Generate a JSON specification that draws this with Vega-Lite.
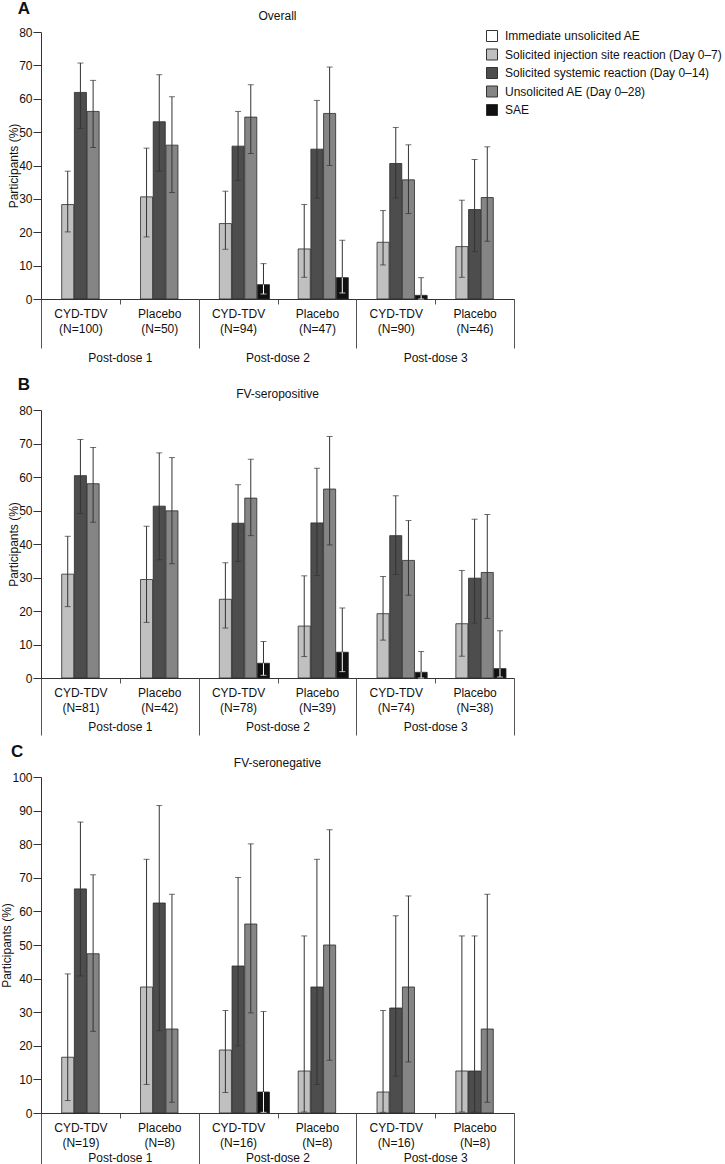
{
  "$schema": "https://vega.github.io/schema/vega-lite/v6.json",
  "padding": {"left": 0, "top": 0, "right": 0, "bottom": 0},
  "config": {
    "font": "Liberation Sans",
    "view": {"stroke": null},
    "title": {"color": "#111"},
    "axis": {"labelColor": "#111", "titleColor": "#111", "labelFontSize": 12, "titleFontSize": 12, "titleFontWeight": "normal", "domainColor": "#333", "tickColor": "#555", "grid": false},
    "axisY": {"tickSize": 8, "labelPadding": 1, "titlePadding": -2, "tickColor": "#333"}
  },
  "datasets": {
    "bars": [
      {"panel": "A", "grp": "P1|CYD-TDV|(N=100)", "cat": "Solicited injection site reaction (Day 0–7)", "v": 28.3, "lo": 20.1, "hi": 38.3},
      {"panel": "A", "grp": "P1|CYD-TDV|(N=100)", "cat": "Solicited systemic reaction (Day 0–14)", "v": 61.9, "lo": 51.1, "hi": 70.7},
      {"panel": "A", "grp": "P1|CYD-TDV|(N=100)", "cat": "Unsolicited AE (Day 0–28)", "v": 56.2, "lo": 45.4, "hi": 65.5},
      {"panel": "A", "grp": "P1|Placebo|(N=50)", "cat": "Solicited injection site reaction (Day 0–7)", "v": 30.6, "lo": 18.6, "hi": 45.2},
      {"panel": "A", "grp": "P1|Placebo|(N=50)", "cat": "Solicited systemic reaction (Day 0–14)", "v": 53.1, "lo": 38.3, "hi": 67.2},
      {"panel": "A", "grp": "P1|Placebo|(N=50)", "cat": "Unsolicited AE (Day 0–28)", "v": 46.1, "lo": 31.9, "hi": 60.6},
      {"panel": "A", "grp": "P2|CYD-TDV|(N=94)", "cat": "Solicited injection site reaction (Day 0–7)", "v": 22.6, "lo": 14.9, "hi": 32.3},
      {"panel": "A", "grp": "P2|CYD-TDV|(N=94)", "cat": "Solicited systemic reaction (Day 0–14)", "v": 45.8, "lo": 35.5, "hi": 56.2},
      {"panel": "A", "grp": "P2|CYD-TDV|(N=94)", "cat": "Unsolicited AE (Day 0–28)", "v": 54.5, "lo": 43.6, "hi": 64.2},
      {"panel": "A", "grp": "P2|CYD-TDV|(N=94)", "cat": "SAE", "v": 4.3, "lo": 1.5, "hi": 10.6},
      {"panel": "A", "grp": "P2|Placebo|(N=47)", "cat": "Solicited injection site reaction (Day 0–7)", "v": 15.0, "lo": 6.5, "hi": 28.3},
      {"panel": "A", "grp": "P2|Placebo|(N=47)", "cat": "Solicited systemic reaction (Day 0–14)", "v": 44.9, "lo": 30.2, "hi": 59.5},
      {"panel": "A", "grp": "P2|Placebo|(N=47)", "cat": "Unsolicited AE (Day 0–28)", "v": 55.6, "lo": 40.0, "hi": 69.5},
      {"panel": "A", "grp": "P2|Placebo|(N=47)", "cat": "SAE", "v": 6.4, "lo": 1.8, "hi": 17.6},
      {"panel": "A", "grp": "P3|CYD-TDV|(N=90)", "cat": "Solicited injection site reaction (Day 0–7)", "v": 17.0, "lo": 10.2, "hi": 26.5},
      {"panel": "A", "grp": "P3|CYD-TDV|(N=90)", "cat": "Solicited systemic reaction (Day 0–14)", "v": 40.6, "lo": 30.3, "hi": 51.4},
      {"panel": "A", "grp": "P3|CYD-TDV|(N=90)", "cat": "Unsolicited AE (Day 0–28)", "v": 35.7, "lo": 25.6, "hi": 46.2},
      {"panel": "A", "grp": "P3|CYD-TDV|(N=90)", "cat": "SAE", "v": 1.1, "lo": 0.0, "hi": 6.4},
      {"panel": "A", "grp": "P3|Placebo|(N=46)", "cat": "Solicited injection site reaction (Day 0–7)", "v": 15.7, "lo": 6.5, "hi": 29.6},
      {"panel": "A", "grp": "P3|Placebo|(N=46)", "cat": "Solicited systemic reaction (Day 0–14)", "v": 26.8, "lo": 14.2, "hi": 41.8},
      {"panel": "A", "grp": "P3|Placebo|(N=46)", "cat": "Unsolicited AE (Day 0–28)", "v": 30.4, "lo": 17.3, "hi": 45.6},

      {"panel": "B", "grp": "P1|CYD-TDV|(N=81)", "cat": "Solicited injection site reaction (Day 0–7)", "v": 31.0, "lo": 21.3, "hi": 42.3},
      {"panel": "B", "grp": "P1|CYD-TDV|(N=81)", "cat": "Solicited systemic reaction (Day 0–14)", "v": 60.4, "lo": 49.1, "hi": 71.2},
      {"panel": "B", "grp": "P1|CYD-TDV|(N=81)", "cat": "Unsolicited AE (Day 0–28)", "v": 58.0, "lo": 46.5, "hi": 68.8},
      {"panel": "B", "grp": "P1|Placebo|(N=42)", "cat": "Solicited injection site reaction (Day 0–7)", "v": 29.4, "lo": 16.6, "hi": 45.3},
      {"panel": "B", "grp": "P1|Placebo|(N=42)", "cat": "Solicited systemic reaction (Day 0–14)", "v": 51.3, "lo": 35.3, "hi": 67.2},
      {"panel": "B", "grp": "P1|Placebo|(N=42)", "cat": "Unsolicited AE (Day 0–28)", "v": 49.9, "lo": 34.1, "hi": 65.8},
      {"panel": "B", "grp": "P2|CYD-TDV|(N=78)", "cat": "Solicited injection site reaction (Day 0–7)", "v": 23.5, "lo": 14.9, "hi": 34.4},
      {"panel": "B", "grp": "P2|CYD-TDV|(N=78)", "cat": "Solicited systemic reaction (Day 0–14)", "v": 46.2, "lo": 34.8, "hi": 57.7},
      {"panel": "B", "grp": "P2|CYD-TDV|(N=78)", "cat": "Unsolicited AE (Day 0–28)", "v": 53.7, "lo": 42.5, "hi": 65.3},
      {"panel": "B", "grp": "P2|CYD-TDV|(N=78)", "cat": "SAE", "v": 4.4, "lo": 0.8, "hi": 10.9},
      {"panel": "B", "grp": "P2|Placebo|(N=39)", "cat": "Solicited injection site reaction (Day 0–7)", "v": 15.5, "lo": 6.4, "hi": 30.5},
      {"panel": "B", "grp": "P2|Placebo|(N=39)", "cat": "Solicited systemic reaction (Day 0–14)", "v": 46.3, "lo": 30.6, "hi": 62.6},
      {"panel": "B", "grp": "P2|Placebo|(N=39)", "cat": "Unsolicited AE (Day 0–28)", "v": 56.4, "lo": 39.7, "hi": 72.1},
      {"panel": "B", "grp": "P2|Placebo|(N=39)", "cat": "SAE", "v": 7.7, "lo": 1.9, "hi": 20.9},
      {"panel": "B", "grp": "P3|CYD-TDV|(N=74)", "cat": "Solicited injection site reaction (Day 0–7)", "v": 19.2, "lo": 11.3, "hi": 30.3},
      {"panel": "B", "grp": "P3|CYD-TDV|(N=74)", "cat": "Solicited systemic reaction (Day 0–14)", "v": 42.5, "lo": 30.9, "hi": 54.4},
      {"panel": "B", "grp": "P3|CYD-TDV|(N=74)", "cat": "Unsolicited AE (Day 0–28)", "v": 35.1, "lo": 24.7, "hi": 47.0},
      {"panel": "B", "grp": "P3|CYD-TDV|(N=74)", "cat": "SAE", "v": 1.7, "lo": 0.0, "hi": 7.9},
      {"panel": "B", "grp": "P3|Placebo|(N=38)", "cat": "Solicited injection site reaction (Day 0–7)", "v": 16.2, "lo": 6.5, "hi": 32.1},
      {"panel": "B", "grp": "P3|Placebo|(N=38)", "cat": "Solicited systemic reaction (Day 0–14)", "v": 29.8, "lo": 16.4, "hi": 47.4},
      {"panel": "B", "grp": "P3|Placebo|(N=38)", "cat": "Unsolicited AE (Day 0–28)", "v": 31.5, "lo": 17.8, "hi": 48.8},
      {"panel": "B", "grp": "P3|Placebo|(N=38)", "cat": "SAE", "v": 2.8, "lo": 0.3, "hi": 14.1},

      {"panel": "C", "grp": "P1|CYD-TDV|(N=19)", "cat": "Solicited injection site reaction (Day 0–7)", "v": 16.6, "lo": 3.7, "hi": 41.4},
      {"panel": "C", "grp": "P1|CYD-TDV|(N=19)", "cat": "Solicited systemic reaction (Day 0–14)", "v": 66.7, "lo": 40.8, "hi": 86.6},
      {"panel": "C", "grp": "P1|CYD-TDV|(N=19)", "cat": "Unsolicited AE (Day 0–28)", "v": 47.4, "lo": 24.3, "hi": 70.9},
      {"panel": "C", "grp": "P1|Placebo|(N=8)", "cat": "Solicited injection site reaction (Day 0–7)", "v": 37.5, "lo": 8.5, "hi": 75.5},
      {"panel": "C", "grp": "P1|Placebo|(N=8)", "cat": "Solicited systemic reaction (Day 0–14)", "v": 62.5, "lo": 24.5, "hi": 91.5},
      {"panel": "C", "grp": "P1|Placebo|(N=8)", "cat": "Unsolicited AE (Day 0–28)", "v": 25.0, "lo": 3.2, "hi": 65.1},
      {"panel": "C", "grp": "P2|CYD-TDV|(N=16)", "cat": "Solicited injection site reaction (Day 0–7)", "v": 18.75, "lo": 6.1, "hi": 30.5},
      {"panel": "C", "grp": "P2|CYD-TDV|(N=16)", "cat": "Solicited systemic reaction (Day 0–14)", "v": 43.75, "lo": 20.0, "hi": 70.1},
      {"panel": "C", "grp": "P2|CYD-TDV|(N=16)", "cat": "Unsolicited AE (Day 0–28)", "v": 56.25, "lo": 29.8, "hi": 80.1},
      {"panel": "C", "grp": "P2|CYD-TDV|(N=16)", "cat": "SAE", "v": 6.25, "lo": 0.2, "hi": 30.2},
      {"panel": "C", "grp": "P2|Placebo|(N=8)", "cat": "Solicited injection site reaction (Day 0–7)", "v": 12.5, "lo": 0.3, "hi": 52.7},
      {"panel": "C", "grp": "P2|Placebo|(N=8)", "cat": "Solicited systemic reaction (Day 0–14)", "v": 37.5, "lo": 8.5, "hi": 75.5},
      {"panel": "C", "grp": "P2|Placebo|(N=8)", "cat": "Unsolicited AE (Day 0–28)", "v": 50.0, "lo": 15.7, "hi": 84.3},
      {"panel": "C", "grp": "P3|CYD-TDV|(N=16)", "cat": "Solicited injection site reaction (Day 0–7)", "v": 6.25, "lo": 0.2, "hi": 30.5},
      {"panel": "C", "grp": "P3|CYD-TDV|(N=16)", "cat": "Solicited systemic reaction (Day 0–14)", "v": 31.25, "lo": 11.0, "hi": 58.7},
      {"panel": "C", "grp": "P3|CYD-TDV|(N=16)", "cat": "Unsolicited AE (Day 0–28)", "v": 37.5, "lo": 15.2, "hi": 64.6},
      {"panel": "C", "grp": "P3|Placebo|(N=8)", "cat": "Solicited injection site reaction (Day 0–7)", "v": 12.5, "lo": 0.3, "hi": 52.7},
      {"panel": "C", "grp": "P3|Placebo|(N=8)", "cat": "Solicited systemic reaction (Day 0–14)", "v": 12.5, "lo": 0.3, "hi": 52.7},
      {"panel": "C", "grp": "P3|Placebo|(N=8)", "cat": "Unsolicited AE (Day 0–28)", "v": 25.0, "lo": 3.2, "hi": 65.1}
    ],
    "doses": [
      {"dose": "Post-dose 1"},
      {"dose": "Post-dose 2"},
      {"dose": "Post-dose 3"}
    ]
  },
  "spacing": 7,
  "vconcat": [
    {
      "title": {"text": "A", "anchor": "start", "frame": "bounds", "fontSize": 17, "fontWeight": "bold", "offset": -8, "dx": 10},
      "vconcat": [
        {
          "width": 473,
          "height": 267,
          "title": {"text": "Overall", "anchor": "middle", "frame": "group", "fontSize": 12, "fontWeight": "normal", "offset": 3},
          "resolve": {"scale": {"x": "independent"}, "axis": {"x": "independent"}},
          "layer": [
            {
              "data": {"name": "bars"},
              "transform": [{"filter": "datum.panel === 'A'"}],
              "encoding": {
                "x": {"field": "grp", "type": "nominal", "sort": null, "scale": {"paddingInner": 0, "paddingOuter": 0}, "axis": {"orient": "bottom", "title": null, "tickBand": "extent", "tickSize": 5, "labelPadding": 4, "labelAngle": 0, "labelOverlap": false, "labelExpr": "slice(split(datum.label, '|'), 1)", "labelLineHeight": 15}},
                "xOffset": {"field": "cat", "type": "nominal", "scale": {"domain": ["Immediate unsolicited AE", "Solicited injection site reaction (Day 0–7)", "Solicited systemic reaction (Day 0–14)", "Unsolicited AE (Day 0–28)", "SAE"], "paddingInner": 0.05, "paddingOuter": 0.63}}
              },
              "layer": [
                {
                  "mark": {"type": "bar", "stroke": "#2a2a2a", "strokeWidth": 0.8},
                  "encoding": {
                    "y": {"field": "v", "type": "quantitative", "scale": {"domain": [0, 80], "nice": false}, "axis": {"title": "Participants (%)", "values": [0, 10, 20, 30, 40, 50, 60, 70, 80]}},
                    "color": {"field": "cat", "type": "nominal", "scale": {"domain": ["Immediate unsolicited AE", "Solicited injection site reaction (Day 0–7)", "Solicited systemic reaction (Day 0–14)", "Unsolicited AE (Day 0–28)", "SAE"], "range": ["#ffffff", "#c0c0c0", "#4d4d4d", "#858585", "#111111"]}, "legend": {"title": null, "orient": "none", "legendX": 445, "legendY": -2, "symbolType": "square", "symbolSize": 121, "symbolStrokeColor": "#333", "symbolStrokeWidth": 1, "symbolOpacity": 1, "labelFontSize": 12, "labelColor": "#111", "labelOffset": 7, "rowPadding": 2.5, "labelLimit": 300}}
                  }
                },
                {
                  "mark": {"type": "rule", "color": "#333", "strokeWidth": 1},
                  "encoding": {"y": {"field": "v", "type": "quantitative", "axis": {"title": "Participants (%)", "values": [0, 10, 20, 30, 40, 50, 60, 70, 80]}}, "y2": {"field": "hi"}}
                },
                {
                  "mark": {"type": "rule", "strokeWidth": 1},
                  "encoding": {"y": {"field": "lo", "type": "quantitative", "axis": {"title": "Participants (%)", "values": [0, 10, 20, 30, 40, 50, 60, 70, 80]}}, "y2": {"field": "v"}, "color": {"condition": {"test": "datum.cat === 'SAE'", "value": "#ffffff"}, "value": "#333333"}}
                },
                {
                  "transform": [{"fold": ["lo", "hi"], "as": ["end", "yv"]}],
                  "mark": {"type": "tick", "thickness": 1, "size": 6, "orient": "horizontal"},
                  "encoding": {"y": {"field": "yv", "type": "quantitative", "axis": {"title": "Participants (%)", "values": [0, 10, 20, 30, 40, 50, 60, 70, 80]}}, "color": {"condition": {"test": "datum.cat === 'SAE' && datum.end === 'lo'", "value": "#ffffff"}, "value": "#333333"}}
                }
              ]
            },
            {
              "data": {"name": "doses"},
              "mark": {"type": "rule", "opacity": 0},
              "encoding": {
                "x": {"field": "dose", "type": "nominal", "sort": null, "scale": {"paddingInner": 0, "paddingOuter": 0}, "axis": {"orient": "bottom", "title": null, "domain": false, "tickBand": "extent", "tickSize": 49, "tickColor": "#555", "labelPadding": 4, "labelAngle": 0, "minExtent": 70}}
              }
            }
          ]
        }
      ]
    },
    {
      "title": {"text": "B", "anchor": "start", "frame": "bounds", "fontSize": 17, "fontWeight": "bold", "offset": -6, "dx": 10},
      "vconcat": [
        {
          "width": 473,
          "height": 268,
          "title": {"text": "FV-seropositive", "anchor": "middle", "frame": "group", "fontSize": 12, "fontWeight": "normal", "offset": 3},
          "resolve": {"scale": {"x": "independent"}, "axis": {"x": "independent"}},
          "layer": [
            {
              "data": {"name": "bars"},
              "transform": [{"filter": "datum.panel === 'B'"}],
              "encoding": {
                "x": {"field": "grp", "type": "nominal", "sort": null, "scale": {"paddingInner": 0, "paddingOuter": 0}, "axis": {"orient": "bottom", "title": null, "tickBand": "extent", "tickSize": 5, "labelPadding": 4, "labelAngle": 0, "labelOverlap": false, "labelExpr": "slice(split(datum.label, '|'), 1)", "labelLineHeight": 15}},
                "xOffset": {"field": "cat", "type": "nominal", "scale": {"domain": ["Immediate unsolicited AE", "Solicited injection site reaction (Day 0–7)", "Solicited systemic reaction (Day 0–14)", "Unsolicited AE (Day 0–28)", "SAE"], "paddingInner": 0.05, "paddingOuter": 0.63}}
              },
              "layer": [
                {
                  "mark": {"type": "bar", "stroke": "#2a2a2a", "strokeWidth": 0.8},
                  "encoding": {
                    "y": {"field": "v", "type": "quantitative", "scale": {"domain": [0, 80], "nice": false}, "axis": {"title": "Participants (%)", "values": [0, 10, 20, 30, 40, 50, 60, 70, 80]}},
                    "color": {"field": "cat", "type": "nominal", "legend": null}
                  }
                },
                {
                  "mark": {"type": "rule", "color": "#333", "strokeWidth": 1},
                  "encoding": {"y": {"field": "v", "type": "quantitative", "axis": {"title": "Participants (%)", "values": [0, 10, 20, 30, 40, 50, 60, 70, 80]}}, "y2": {"field": "hi"}}
                },
                {
                  "mark": {"type": "rule", "strokeWidth": 1},
                  "encoding": {"y": {"field": "lo", "type": "quantitative", "axis": {"title": "Participants (%)", "values": [0, 10, 20, 30, 40, 50, 60, 70, 80]}}, "y2": {"field": "v"}, "color": {"condition": {"test": "datum.cat === 'SAE'", "value": "#ffffff"}, "value": "#333333"}}
                },
                {
                  "transform": [{"fold": ["lo", "hi"], "as": ["end", "yv"]}],
                  "mark": {"type": "tick", "thickness": 1, "size": 6, "orient": "horizontal"},
                  "encoding": {"y": {"field": "yv", "type": "quantitative", "axis": {"title": "Participants (%)", "values": [0, 10, 20, 30, 40, 50, 60, 70, 80]}}, "color": {"condition": {"test": "datum.cat === 'SAE' && datum.end === 'lo'", "value": "#ffffff"}, "value": "#333333"}}
                }
              ]
            },
            {
              "data": {"name": "doses"},
              "mark": {"type": "rule", "opacity": 0},
              "encoding": {
                "x": {"field": "dose", "type": "nominal", "sort": null, "scale": {"paddingInner": 0, "paddingOuter": 0}, "axis": {"orient": "bottom", "title": null, "domain": false, "tickBand": "extent", "tickSize": 57, "tickColor": "#555", "labelPadding": -14, "labelAngle": 0}}
              }
            }
          ]
        }
      ]
    },
    {
      "title": {"text": "C", "anchor": "start", "frame": "bounds", "fontSize": 17, "fontWeight": "bold", "offset": -4, "dx": 10},
      "vconcat": [
        {
          "width": 473,
          "height": 336,
          "title": {"text": "FV-seronegative", "anchor": "middle", "frame": "group", "fontSize": 12, "fontWeight": "normal", "offset": 1},
          "resolve": {"scale": {"x": "independent"}, "axis": {"x": "independent"}},
          "layer": [
            {
              "data": {"name": "bars"},
              "transform": [{"filter": "datum.panel === 'C'"}],
              "encoding": {
                "x": {"field": "grp", "type": "nominal", "sort": null, "scale": {"paddingInner": 0, "paddingOuter": 0}, "axis": {"orient": "bottom", "title": null, "tickBand": "extent", "tickSize": 5, "labelPadding": 4, "labelAngle": 0, "labelOverlap": false, "labelExpr": "slice(split(datum.label, '|'), 1)", "labelLineHeight": 15}},
                "xOffset": {"field": "cat", "type": "nominal", "scale": {"domain": ["Immediate unsolicited AE", "Solicited injection site reaction (Day 0–7)", "Solicited systemic reaction (Day 0–14)", "Unsolicited AE (Day 0–28)", "SAE"], "paddingInner": 0.05, "paddingOuter": 0.63}}
              },
              "layer": [
                {
                  "mark": {"type": "bar", "stroke": "#2a2a2a", "strokeWidth": 0.8},
                  "encoding": {
                    "y": {"field": "v", "type": "quantitative", "scale": {"domain": [0, 100], "nice": false}, "axis": {"title": "Participants (%)", "values": [0, 10, 20, 30, 40, 50, 60, 70, 80, 90, 100]}},
                    "color": {"field": "cat", "type": "nominal", "legend": null}
                  }
                },
                {
                  "mark": {"type": "rule", "color": "#333", "strokeWidth": 1},
                  "encoding": {"y": {"field": "v", "type": "quantitative", "axis": {"title": "Participants (%)", "values": [0, 10, 20, 30, 40, 50, 60, 70, 80, 90, 100]}}, "y2": {"field": "hi"}}
                },
                {
                  "mark": {"type": "rule", "strokeWidth": 1},
                  "encoding": {"y": {"field": "lo", "type": "quantitative", "axis": {"title": "Participants (%)", "values": [0, 10, 20, 30, 40, 50, 60, 70, 80, 90, 100]}}, "y2": {"field": "v"}, "color": {"condition": {"test": "datum.cat === 'SAE'", "value": "#ffffff"}, "value": "#333333"}}
                },
                {
                  "transform": [{"fold": ["lo", "hi"], "as": ["end", "yv"]}],
                  "mark": {"type": "tick", "thickness": 1, "size": 6, "orient": "horizontal"},
                  "encoding": {"y": {"field": "yv", "type": "quantitative", "axis": {"title": "Participants (%)", "values": [0, 10, 20, 30, 40, 50, 60, 70, 80, 90, 100]}}, "color": {"condition": {"test": "datum.cat === 'SAE' && datum.end === 'lo'", "value": "#ffffff"}, "value": "#333333"}}
                }
              ]
            },
            {
              "data": {"name": "doses"},
              "mark": {"type": "rule", "opacity": 0},
              "encoding": {
                "x": {"field": "dose", "type": "nominal", "sort": null, "scale": {"paddingInner": 0, "paddingOuter": 0}, "axis": {"orient": "bottom", "title": null, "domain": false, "tickBand": "extent", "tickSize": 52, "tickColor": "#555", "labelPadding": -13, "labelAngle": 0}}
              }
            }
          ]
        }
      ]
    }
  ]
}
